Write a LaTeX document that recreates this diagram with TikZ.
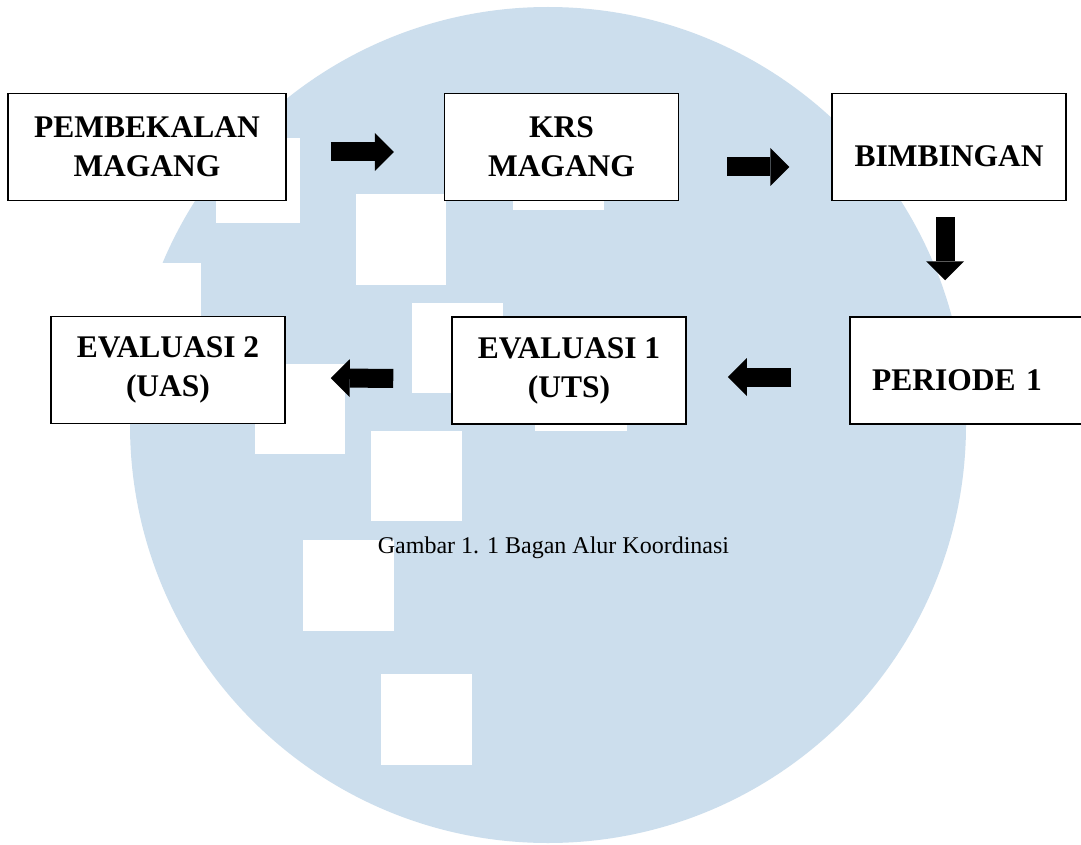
\documentclass[tikz,border=0pt]{standalone}
\usepackage{fontspec}
\setmainfont{Liberation Serif}
\usepackage{xcolor}
\usepackage{tikz}
\usetikzlibrary{arrows.meta}
\definecolor{logoblue}{RGB}{204,222,237}
\tikzstyle{box}=[fill=white, draw=black, line width=1.5pt, shape=rectangle, minimum width=234pt, minimum height=107pt, inner sep=0pt, align=center, font=\bfseries\fontsize{31.5}{39}\selectfont]
\tikzstyle{one line}=[text height=39pt, text depth=0pt]
\tikzstyle{block arrow}=[-{Triangle[length=19pt, width=38pt, line width=0pt]}, line width=19pt, draw=black]
\tikzstyle{caption}=[anchor=base, font=\fontsize{24}{28}\selectfont]
\pgfdeclarelayer{bglayer}
\pgfdeclarelayer{nodelayer}
\pgfdeclarelayer{edgelayer}
\pgfsetlayers{bglayer,nodelayer,edgelayer,main}
\begin{document}
\begin{tikzpicture}[x=1pt, y=-1pt]
    	\useasboundingbox (0,0) rectangle (1081,845);
    	\begin{pgfonlayer}{bglayer}
    		\fill [white] (0,0) rectangle (1081,845);
    		\fill [logoblue] (548,425) circle (418pt);
    		\fill [white] (110,263) rectangle (201,350);
    		\foreach \xa/\ya/\xb/\yb in {216/138/300/223, 356/194/446/285, 513/120/604/210, 412/303/503/393, 255/364/345/454, 535/341/627/431, 371/431/462/521, 303/540/394/631, 381/674/472/765}
    			\fill [white] (\xa,\ya) rectangle (\xb,\yb);
    	\end{pgfonlayer}
    	\begin{pgfonlayer}{nodelayer}
    		\node [style=box, minimum width=278pt] (0) at (147,147) {PEMBEKALAN\\MAGANG};
    		\node [style=box] (1) at (561.5,147) {KRS\\MAGANG};
    		\node [style=box, one line] (2) at (949,147) {BIMBINGAN};
    		\node [style=box, one line, text width=190pt, align=left, inner xsep=22pt] (3) at (967,370.5) {PERIODE 1};
    		\node [style=box] (4) at (569,370.5) {EVALUASI 1\\(UTS)};
    		\node [style=box] (5) at (168,370) {EVALUASI 2\\(UAS)};
    		\node [style=caption] (6) at (553.5,553) {Gambar 1. 1 Bagan Alur Koordinasi};
    	\end{pgfonlayer}
    	\begin{pgfonlayer}{edgelayer}
    		\draw [style=block arrow, shorten <=44pt, shorten >=50pt] ([yshift=-5pt]0.east) to ([yshift=-5pt]1.west);
    		\draw [style=block arrow, shorten <=48pt, shorten >=42pt] ([yshift=-20pt]1.east) to ([yshift=-20pt]2.west);
    		\draw [style=block arrow, shorten <=16pt, shorten >=36pt] ([xshift=-4pt]2.south) to ([xshift=-4pt]2.south |- 3.north);
    		\draw [style=block arrow, shorten <=58pt, shorten >=41pt] ([yshift=-6.5pt]3.west) to ([yshift=-6.5pt]4.east);
    		\draw [style=block arrow, shorten <=58pt, shorten >=45pt] ([yshift=-8pt]4.west) to ([yshift=-8pt]5.east);
    	\end{pgfonlayer}
    \end{tikzpicture}
\end{document}
